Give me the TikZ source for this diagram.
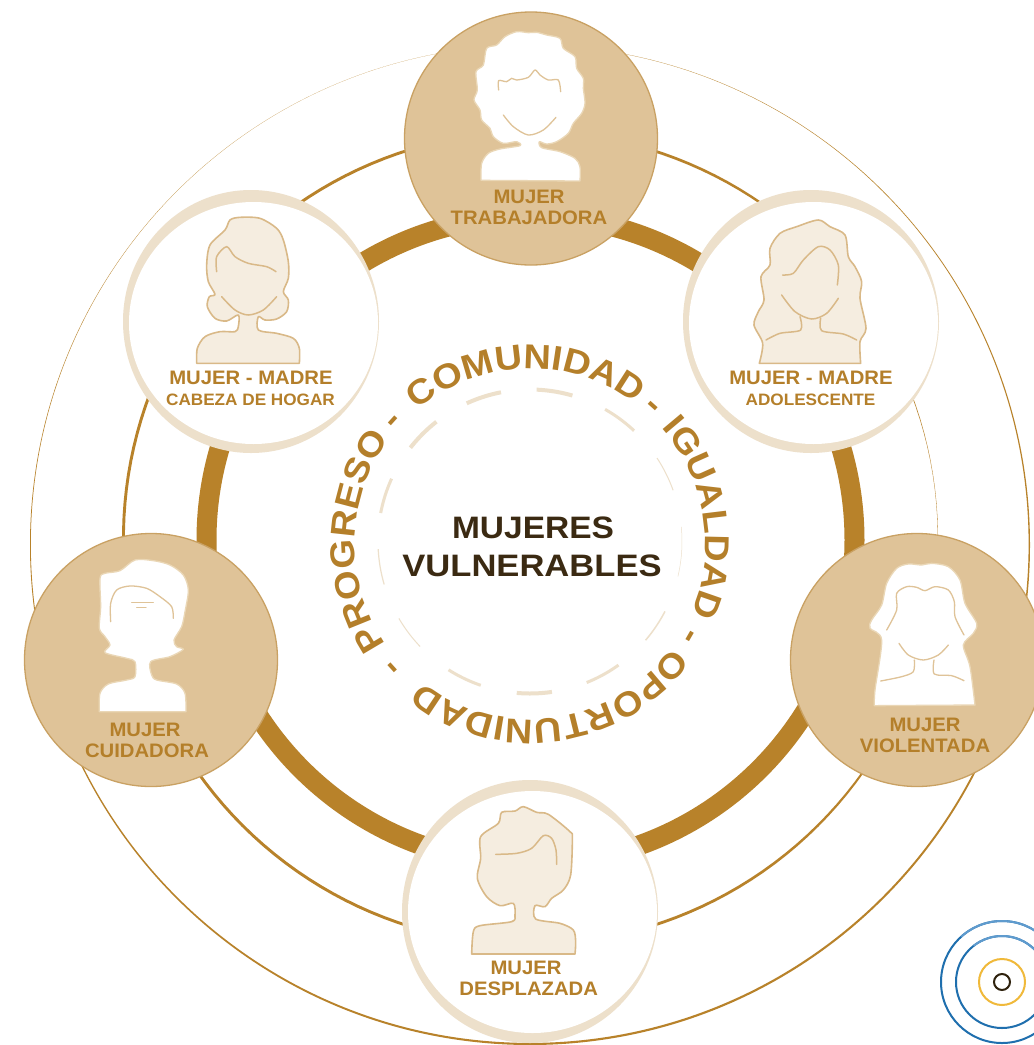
\documentclass[tikz,border=0pt]{standalone}
\usepackage{fontspec}
\usetikzlibrary{decorations.text}
\newfontfamily\labfont[FakeStretch=1.04]{Liberation Sans}
\newfontfamily\ringface[FakeStretch=1.1]{Liberation Sans}
\newfontfamily\midfont[FakeStretch=1.08]{Liberation Sans}
\newfontfamily\midwide[FakeStretch=1.115]{Liberation Sans}
\definecolor{gold}{HTML}{B8822A}
\definecolor{goldtext}{HTML}{B47F2A}
\definecolor{sand}{HTML}{DFC398}
\definecolor{sandedge}{HTML}{C9A163}
\definecolor{pale}{HTML}{EDE0CB}
\definecolor{paper}{HTML}{F5EDE0}
\definecolor{hairedge}{HTML}{D9B988}
\definecolor{whiteedge}{HTML}{EAD7B6}
\definecolor{ink}{HTML}{3B2A12}
\definecolor{bluedark}{HTML}{1F6FAE}
\definecolor{bluelight}{HTML}{5F9BCE}
\definecolor{yellowring}{HTML}{F0B93A}
\def\ringfont{\ringface\bfseries\fontsize{34.5}{35}\selectfont\color{goldtext}}
\tikzset{
  solidcircle/.style={fill=sand,draw=sandedge,line width=1.3pt},
  lab/.style={text=goldtext,font=\labfont\bfseries\fontsize{19.5}{20}\selectfont,inner sep=0pt},
  labsmall/.style={text=goldtext,font=\labfont\bfseries\fontsize{16.5}{17}\selectfont,inner sep=0pt},
  midlab/.style={text=ink,font=\midfont\bfseries\fontsize{31}{32}\selectfont,inner sep=0pt},
  midlabwide/.style={text=ink,font=\midwide\bfseries\fontsize{31}{32}\selectfont,inner sep=0pt},
  headpale/.style={fill=paper,draw=hairedge,line width=1.6pt,line join=round},
  headwhite/.style={fill=white,draw=whiteedge,line width=1.3pt,line join=round},
  linepale/.style={draw=hairedge,line width=1.5pt,line cap=round},
  linewhite/.style={draw=sand,line width=1.3pt,line cap=round},
  dashseg/.style={draw=pale,line cap=butt},
  zoomed/.style={x=.33333pt,y=-.33333pt},
  curve/.style={smooth,tension=.5}
}
\newcommand{\ringword}[3]{%
  \path[x=1pt,y=1pt,decorate,decoration={text along path,text={|\ringfont|#1},text align=center}]
    (530,-544) ++(-#2+#3:175.5pt) arc[start angle=-#2+#3,end angle=-#2-#3,radius=175.5pt];}
\newcommand{\dashpiece}[3]{%
  \draw[dashseg,line width=#3pt] plot[smooth,domain=#1:#2,samples=12] ({530+152*cos(\x)},{541.5+152*sin(\x)});}
\begin{document}
\begin{tikzpicture}[x=1pt,y=-1pt]
\fill[white] (0,0) rectangle (1034,1045);
\clip (0,0) rectangle (1034,1045);
% rings
\fill[gold,even odd rule] (530,545) circle[radius=500] (529.7,544) circle[radius=498.9];
\fill[gold] plot[domain=-185:175,samples=181] ({530+408*cos(\x)},{538+408*sin(\x)})
  -- plot[domain=175:-185,samples=181] ({530+(408-2.9+2.6*exp(-((\x+5)/40)^2))*cos(\x)},{538+(408-2.9+2.6*exp(-((\x+5)/40)^2))*sin(\x)}) -- cycle;
\draw[gold,line width=20pt] (530.5,540) circle[radius=324];
% dashed ring
\dashpiece{245.4}{259}{4}\dashpiece{272.5}{286.2}{4}\dashpiece{299.6}{313.2}{3}
\dashpiece{326.7}{340.3}{1}\dashpiece{354.5}{373.3}{.5}\dashpiece{27.4}{40.5}{1.5}
\dashpiece{54.4}{68.1}{3}\dashpiece{81.7}{95}{4}\dashpiece{108.9}{122.4}{3}
\dashpiece{136.3}{149.6}{1}\dashpiece{163.6}{177.1}{1.2}\dashpiece{190.8}{204.4}{3}
\dashpiece{218.1}{232}{4}
% circular words: centre angle (clockwise from +x), half span
\ringword{COMUNIDAD}{268.5}{60}
\ringword{-}{311.8}{8}
\ringword{IGUALDAD}{351}{55}
\ringword{-}{30}{8}
\ringword{OPORTUNIDAD}{82}{70}
\ringword{-}{138}{8}
\ringword{PROGRESO}{181}{55}
\ringword{-}{222}{8}
% circles
\fill[pale] (251,321.5) circle[x radius=128,y radius=131.5];
\fill[white] (253.5,323) circle[x radius=124.5,y radius=121];
\fill[pale] (811,321.5) circle[x radius=128,y radius=131.5];
\fill[white] (813.5,323) circle[x radius=124.5,y radius=121];
\fill[pale] (530,911.5) circle[x radius=128,y radius=131.5];
\fill[white] (532.5,912) circle[x radius=124.5,y radius=121];
\path[solidcircle] (531,138.5) circle[radius=126.5];
\path[solidcircle] (151,660) circle[radius=126.5];
\path[solidcircle] (917,660) circle[radius=126.5];
% top head
\begin{scope}[shift={(400,0)},zoomed]
\path[headwhite] plot[curve] coordinates {(243,541)(245,490)(265,460)(300,447)(360,437)(350,425)(310,430)(280,410)(270,385)(245,360)(240,330)(222,300)(232,270)(228,215)(250,195)(260,145)(290,135)(315,110)(350,95)(385,98)(410,97)(440,105)(480,115)(490,145)(525,170)(530,205)(550,235)(550,265)(555,310)(545,340)(520,370)(505,400)(470,425)(440,432)(418,425)(425,443)(480,455)(525,475)(540,500)(540,543)} -- cycle;
\draw[linewhite] plot[curve] coordinates {(296,270)(296,242)(320,245)(335,235)(350,240)(385,232)(405,210)(420,225)(445,240)(475,240)(482,275)};
\draw[linewhite] plot[curve] coordinates {(310,345)(340,380)(385,405)(430,390)(468,352)};
\end{scope}
% upper left head
\begin{scope}[shift={(120,185)},zoomed]
\path[headpale] plot[curve] coordinates {(230,535)(232,490)(255,455)(300,440)(345,440)(355,425)(355,390)(320,408)(285,400)(262,365)(268,335)(285,328)(265,290)(260,240)(270,180)(315,135)(330,105)(360,97)(420,100)(470,130)(490,165)(505,230)(505,280)(490,320)(505,345)(500,380)(470,402)(435,405)(415,395)(415,435)(470,445)(520,460)(538,490)(538,535)} -- cycle;
\draw[linepale] plot[curve] coordinates {(290,260)(290,215)(320,185)(345,215)(385,235)(440,245)(468,260)};
\draw[linepale] plot[curve] coordinates {(305,335)(345,375)(385,390)(430,375)(470,335)};
\end{scope}
% upper right head
\begin{scope}[shift={(680,185)},zoomed]
\path[headpale] plot[curve] coordinates {(238,535)(248,475)(222,420)(235,380)(252,345)(243,275)(270,240)(270,190)(300,145)(350,125)(415,105)(450,125)(495,150)(505,215)(525,245)(545,290)(540,340)(558,430)(540,470)(542,535)} -- cycle;
\draw[linepale] plot[curve] coordinates {(308,270)(340,265)(370,225)(415,185)(450,195)(475,240)(472,300)};
\draw[linepale] plot[curve] coordinates {(305,330)(345,380)(395,402)(440,385)(475,340)};
\draw[linepale] plot[curve] coordinates {(360,395)(362,435)(300,445)(258,465)};
\draw[linepale] plot[curve] coordinates {(422,400)(425,437)(490,447)(530,465)};
\end{scope}
% left head
\begin{scope}[shift={(20,530)},zoomed]
\path[headwhite] plot[curve] coordinates {(238,545)(240,490)(265,462)(320,450)(345,440)(345,395)(320,385)(255,368)(270,345)(255,320)(238,295)(242,230)(240,145)(255,130)(300,122)(345,90)(400,92)(450,105)(490,135)(505,180)(495,245)(485,290)(462,330)(470,350)(490,358)(450,380)(392,395)(395,435)(410,450)(470,462)(495,490)(498,545)} -- cycle;
\draw[linewhite] plot[curve] coordinates {(272,275)(272,220)(290,180)(330,168)(380,175)(420,200)(455,230)(460,265)};
\draw[linewhite] (335,218) -- (400,218);
\draw[linewhite] (350,232) -- (378,232);
\end{scope}
% right head
\begin{scope}[shift={(785,530)},zoomed]
\path[headwhite] plot[curve] coordinates {(268,527)(270,480)(290,330)(255,295)(260,270)(290,225)(305,160)(335,115)(370,102)(410,105)(440,100)(490,110)(525,150)(540,220)(575,280)(565,310)(535,345)(555,410)(570,525)} -- cycle;
\draw[linewhite] plot[curve] coordinates {(305,300)(335,240)(335,190)(365,170)(395,172)(420,182)(450,170)(490,180)(508,215)(510,260)(537,315)};
\draw[linewhite] plot[curve] coordinates {(342,340)(370,375)(415,390)(460,375)(490,345)};
\draw[linewhite] plot[curve] coordinates {(388,390)(385,425)(350,440)(287,453)};
\draw[linewhite] plot[curve] coordinates {(447,390)(448,432)(500,437)(537,452)};
\end{scope}
% bottom head
\begin{scope}[shift={(400,775)},zoomed]
\path[headpale] plot[curve] coordinates {(215,537)(220,470)(240,452)(335,440)(345,420)(340,385)(300,392)(260,365)(232,310)(242,250)(242,185)(295,145)(305,112)(345,108)(370,95)(410,112)(445,118)(510,170)(517,190)(512,300)(490,345)(455,370)(435,395)(405,392)(407,432)(480,445)(520,465)(527,500)(525,537)} -- cycle;
\draw[linepale] plot[curve] coordinates {(287,238)(350,235)(395,220)(430,182)(455,190)(468,225)(470,268)};
\end{scope}
% labels
\node[lab] (topa) at (529,197) {MUJER};
\node[lab] (topb) at (529,218) {TRABAJADORA};
\node[lab] (ula) at (251,377.5) {MUJER - MADRE};
\node[labsmall] (ulb) at (250.5,400) {CABEZA DE HOGAR};
\node[lab] (ura) at (811,377.5) {MUJER - MADRE};
\node[labsmall] (urb) at (810.5,400) {ADOLESCENTE};
\node[lab] (la) at (145,730) {MUJER};
\node[lab] (lb) at (147,751) {CUIDADORA};
\node[lab] (ra) at (925,725) {MUJER};
\node[lab] (rb) at (925,746) {VIOLENTADA};
\node[lab] (ba) at (526,968) {MUJER};
\node[lab] (bb) at (528.7,989) {DESPLAZADA};
\node[midlab] (ca) at (533,528) {MUJERES};
\node[midlabwide] (cb) at (532,566) {VULNERABLES};
% mark
\draw[ink!80!black,line width=2pt] (1002,982) circle[radius=8];
\draw[yellowring,line width=2pt] (1002,982) circle[radius=23];
\draw[bluedark,line width=2pt] (1002,982) circle[radius=46];
\draw[bluedark,line width=2pt] (1002,982) circle[radius=61];
\draw[bluelight,line width=2pt] plot[smooth,domain=232:360,samples=30] ({1002+46*cos(\x)},{982+46*sin(\x)});
\draw[bluelight,line width=2pt] plot[smooth,domain=228:360,samples=30] ({1002+61*cos(\x)},{982+61*sin(\x)});
\end{tikzpicture}
\end{document}
